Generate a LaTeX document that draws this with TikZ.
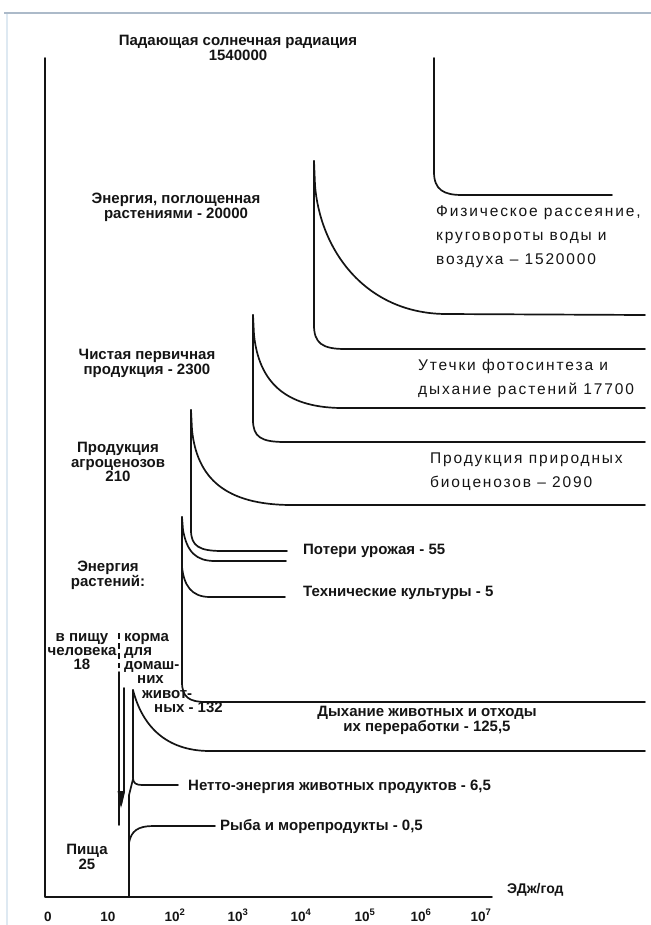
\documentclass[tikz,border=0pt]{standalone}
\usepackage{fontspec}
\setmainfont{Liberation Sans}
\newfontfamily\widefont[LetterSpace=12]{Liberation Sans}
\newcommand\fl{\rule{0pt}{11bp}}
\definecolor{frameblue}{RGB}{172,186,201}
\definecolor{framelight}{RGB}{222,233,242}
\definecolor{ink}{RGB}{20,20,20}
\begin{document}
\begin{tikzpicture}[x=1bp,y=-1bp,
  curve/.style={line width=1.7bp, line cap=round, line join=round, draw=ink},
  lab/.style={font=\bfseries\fontsize{15bp}{14.8bp}\selectfont, inner sep=0pt, text=ink},
  rlab/.style={font=\widefont\fontsize{15.5bp}{24bp}\selectfont, inner sep=0pt, align=left, anchor=north west, text=ink},
  tick/.style={font=\bfseries\fontsize{13.5bp}{14bp}\selectfont, inner sep=0pt, anchor=base, text=ink}]
\useasboundingbox (0,0) rectangle (651,925);
% frame
\draw[frameblue, line width=2bp] (4,13) -- (651,13);
\draw[framelight, line width=1.5bp] (7,14) -- (7,925);
% axes
\coordinate (origin) at (45,897);
\coordinate (ytop) at (45,58);
\coordinate (xend) at (492,897);
\draw[curve] (ytop) -- (origin) -- (xend);
% solar radiation
\coordinate (sT) at (434,58);
\draw[curve] (sT) -- (434,172) .. controls (434,190) and (444,195) .. (462,195) -- (612,195);
% absorbed by plants
\coordinate (aT) at (314,161);
\draw[curve] (aT) -- (315,185) .. controls (320,250) and (365,313) .. (445,314) -- (645,315);
\draw[curve] (aT) -- (314,325) .. controls (314,343) and (322,349) .. (345,349) -- (645,349);
% net primary production
\coordinate (nT) at (253,315);
\draw[curve] (nT) -- (254,335) .. controls (259,382) and (285,407) .. (340,408) -- (645,408);
\draw[curve] (nT) -- (253,420) .. controls (253,437) and (261,442) .. (285,442) -- (645,442);
% agrocenoses
\coordinate (gT) at (191,410);
\draw[curve] (gT) -- (192,430) .. controls (197,478) and (225,505) .. (292,505) -- (645,505);
\draw[curve] (gT) -- (191,530) .. controls (191,546) and (199,551) .. (222,551) -- (287,551);
% plant energy
\coordinate (pT) at (182,517);
\coordinate (pJ) at (182,567);
\draw[curve] (pT) -- (183,530) .. controls (187,552) and (196,561) .. (215,561) -- (286,561);
\draw[curve] (pT) -- (182,682) .. controls (182,697) and (189,702) .. (206,702) -- (645,702);
\draw[curve] (pJ) .. controls (184,585) and (191,597) .. (210,597) -- (285,597);
% human food / fodder
\draw[ink, line width=1.3bp, dash pattern=on 6bp off 4bp] (119,633) -- (119,668);
\coordinate (hT) at (119,672);
\draw[curve] (hT) -- (119,825);
\coordinate (fT) at (124,688);
\draw[curve] (fT) -- (124,792) -- (121,805);
\fill[ink] (117.5,791) -- (125,791) -- (121,808) -- cycle;
% animals
\coordinate (mT) at (133,690);
\coordinate (mJ) at (133,779);
\draw[curve] (mT) -- (133,778) .. controls (133,783) and (136,785) .. (142,785) -- (178,785);
\draw[curve] (mJ) -- (129,795) -- (129,897);
\draw[curve] (mT) .. controls (142,725) and (165,751) .. (210,751) -- (645,751);
\draw[curve] (129,843) .. controls (131,831) and (138,826) .. (153,826) -- (215,826);
% labels
\node[lab, anchor=north, align=center] (title) at (238,34.7) {\fl Падающая солнечная радиация\\1540000};
\node[lab, anchor=north, align=center] (absorb) at (176,192) {\fl Энергия, поглощенная\\растениями - 20000};
\node[rlab] (phys) at (436,205) {\fl Физическое рассеяние,\\круговороты воды и\\воздуха – 1520000};
\node[lab, anchor=north, align=center] (npp) at (147,348) {\fl Чистая первичная\\продукция - 2300};
\node[rlab] (leak) at (418,359) {\fl Утечки фотосинтеза и\\дыхание растений 17700};
\node[lab, anchor=north, align=center] (agro) at (118,441) {\fl Продукция\\агроценозов\\210};
\node[rlab] (nat) at (430,452) {\fl Продукция природных\\биоценозов – 2090};
\node[lab, anchor=base west] (loss) at (303,554) {Потери урожая - 55};
\node[lab, anchor=base west] (tech) at (303,596) {Технические культуры - 5};
\node[lab, anchor=north, align=center] (plant) at (108,560) {\fl Энергия\\растений:};
\node[lab, anchor=north, align=center, font=\bfseries\fontsize{15bp}{14.2bp}\selectfont] (human) at (82,630) {\fl в пищу\\человека\\18};
\node[lab, anchor=north west, align=left, font=\bfseries\fontsize{15bp}{14.2bp}\selectfont] (fodder) at (124,630) {\fl корма\\для\\домаш-\\\hspace*{13bp}них\\\hspace*{18bp}живот-\\\hspace*{30bp}ных - 132};
\node[lab, anchor=north, align=center] (resp) at (427,705) {\fl Дыхание животных и отходы\\их переработки - 125,5};
\node[lab, anchor=base west] (net) at (188,790) {Нетто-энергия животных продуктов - 6,5};
\node[lab, anchor=base west] (fish) at (220,830) {Рыба и морепродукты - 0,5};
\node[lab, anchor=north, align=center] (food) at (87,843) {\fl Пища\\25};
\node[lab, anchor=base west, font=\bfseries\fontsize{14bp}{14bp}\selectfont] (unit) at (507,893) {ЭДж/год};
\node[tick] (t0) at (48,921) {0};
\node[tick] (t1) at (108,921) {10};
\node[tick] (t2) at (175,921) {10\textsuperscript{2}};
\node[tick] (t3) at (238,921) {10\textsuperscript{3}};
\node[tick] (t4) at (301,921) {10\textsuperscript{4}};
\node[tick] (t5) at (365,921) {10\textsuperscript{5}};
\node[tick] (t6) at (421,921) {10\textsuperscript{6}};
\node[tick] (t7) at (481,921) {10\textsuperscript{7}};
\end{tikzpicture}
\end{document}
